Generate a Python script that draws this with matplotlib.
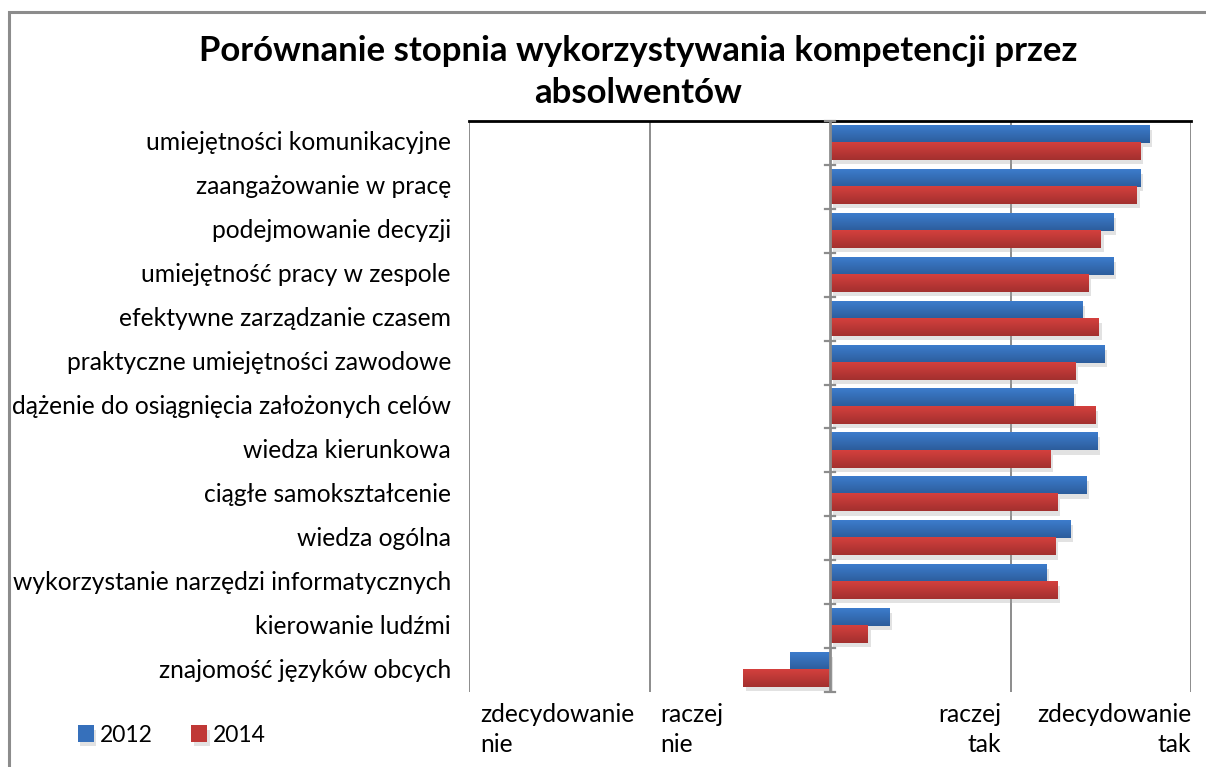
import numpy as np
import matplotlib.pyplot as plt
from matplotlib import patheffects
from matplotlib.patches import Rectangle
from matplotlib.colors import LinearSegmentedColormap

plt.rcParams['font.family'] = ['Lato', 'DejaVu Sans']

# categories listed top to bottom
categories = ['umiejętności komunikacyjne', 'zaangażowanie w pracę', 'podejmowanie decyzji',
              'umiejętność pracy w zespole', 'efektywne zarządzanie czasem',
              'praktyczne umiejętności zawodowe', 'dążenie do osiągnięcia założonych celów',
              'wiedza kierunkowa', 'ciągłe samokształcenie', 'wiedza ogólna',
              'wykorzystanie narzędzi informatycznych', 'kierowanie ludźmi',
              'znajomość języków obcych']
vals_2012 = [1.77, 1.72, 1.57, 1.57, 1.40, 1.52, 1.35, 1.48, 1.42, 1.33, 1.20, 0.33, -0.22]
vals_2014 = [1.72, 1.70, 1.50, 1.43, 1.49, 1.36, 1.47, 1.22, 1.26, 1.25, 1.26, 0.21, -0.48]
scale_ticks = [-2, -1, 1, 2]
scale_labels = ['zdecydowanie\nnie', 'raczej\nnie', 'raczej\ntak', 'zdecydowanie\ntak']

W, H = 1206, 767
fig = plt.figure(figsize=(W / 100, H / 100), dpi=100)
fig.patches.append(Rectangle((8.5 / W, -0.1), 1.2, 1 - 11.5 / H + 0.1, transform=fig.transFigure,
                             fill=False, edgecolor='#8c8c8c', linewidth=2.2))

ax = fig.add_axes([469 / W, 1 - 692 / H, (1191 - 469) / W, (692 - 121) / H])

n = len(categories)
y = np.arange(n)
h = 0.39
shadow = [patheffects.SimplePatchShadow(offset=(2, -3), shadow_rgbFace='#a0a0a0', alpha=0.3),
          patheffects.Normal()]
b1 = ax.barh(y - h / 2, vals_2012, height=h, color='#3670bb', label='2012', zorder=3)
b2 = ax.barh(y + h / 2, vals_2014, height=h, color='#c03836', label='2014', zorder=3)

# soft vertical shading on each bar
grad = np.linspace(0, 1, 32).reshape(-1, 1)
cm_blue = LinearSegmentedColormap.from_list('b', ['#3d7ccc', '#2c5d9c'])
cm_red = LinearSegmentedColormap.from_list('r', ['#d4403d', '#a3302f'])
for bars, cm in [(b1, cm_blue), (b2, cm_red)]:
    for p in bars:
        p.set_path_effects(shadow)
        x0, y0 = p.get_x(), p.get_y()
        x1, y1 = x0 + p.get_width(), y0 + p.get_height()
        ax.imshow(grad, extent=(min(x0, x1), max(x0, x1), y1, y0), cmap=cm,
                  aspect='auto', zorder=3.5, interpolation='bilinear')

ax.set_xlim(-2, 2)
ax.set_ylim(n - 0.5, -0.5)

# vertical gridlines and zero axis
for xv in [-2, -1, 1, 2]:
    ax.axvline(xv, color='#8c8c8c', linewidth=1.4, zorder=1)
ax.axvline(0, color='#8c8c8c', linewidth=2, zorder=4)
for yb in np.arange(n + 1) - 0.5:
    ax.plot([-0.03, 0.03], [yb, yb], color='#8c8c8c', linewidth=1.6, zorder=4, clip_on=False)

for s in ['left', 'right', 'bottom']:
    ax.spines[s].set_visible(False)
ax.spines['top'].set_color('black')
ax.spines['top'].set_linewidth(2)
ax.set_xticks([])
ax.set_yticks([])

for i, c in enumerate(categories):
    ax.text(-2.1, i, c, ha='right', va='center', fontsize=17.7, color='black', clip_on=False)

for xv, lab in zip(scale_ticks, scale_labels):
    if xv < 0:
        ax.text(xv + 0.06, n - 0.5 + 0.26, lab, ha='left', va='top', fontsize=17.7,
                linespacing=1.35, clip_on=False)
    else:
        ax.text(xv - 0.05 if xv == 1 else xv, n - 0.5 + 0.26, lab, ha='right', va='top',
                fontsize=17.7, multialignment='right', linespacing=1.35, clip_on=False)

fig.text(638 / W, 1 - 72 / H, 'Porównanie stopnia wykorzystywania kompetencji przez\nabsolwentów',
         ha='center', va='center', fontsize=25, fontweight='bold', linespacing=1.35)

fig.legend(handles=[b1, b2], labels=['2012', '2014'], loc='center left',
           bbox_to_anchor=(57 / W, 1 - 735 / H), ncol=2, frameon=False, fontsize=16.5,
           handlelength=0.7, handleheight=0.7, handletextpad=0.25, columnspacing=1.7)

fig.savefig('out.png', dpi=100)
